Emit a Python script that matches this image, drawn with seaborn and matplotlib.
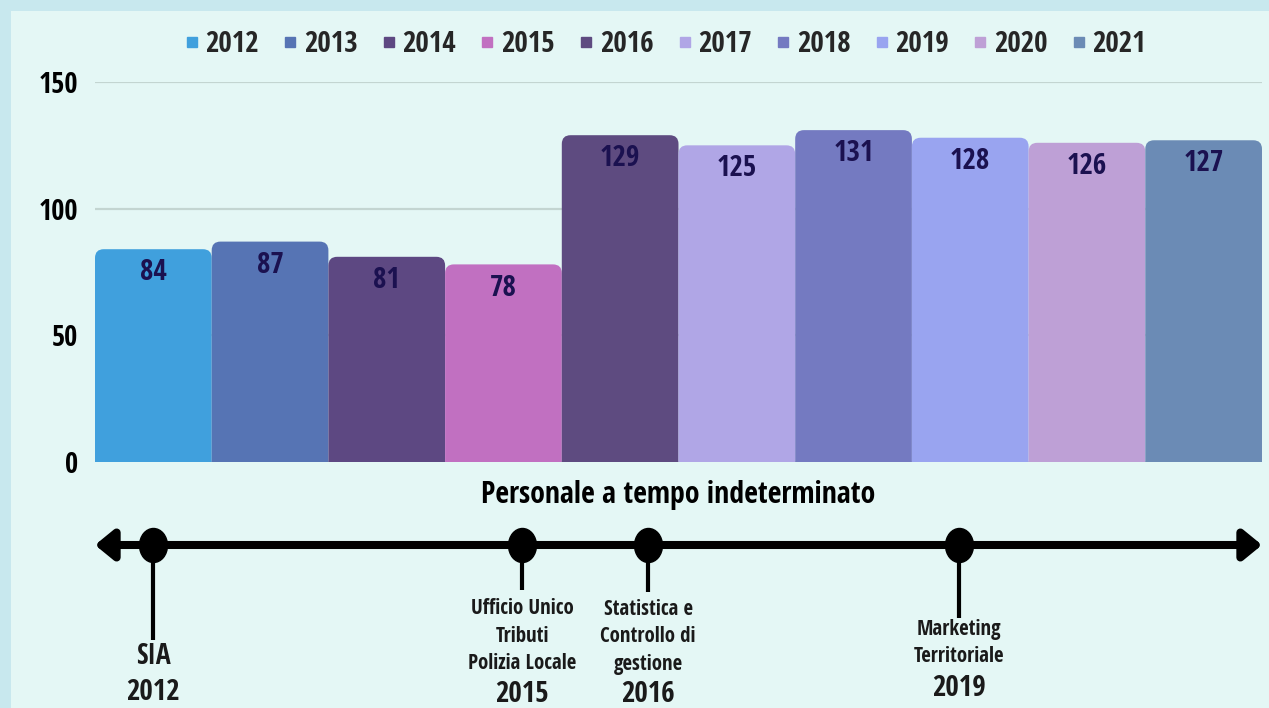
import numpy as np
import pandas as pd
import matplotlib
matplotlib.use("Agg")
import matplotlib.pyplot as plt
from matplotlib.patches import FancyBboxPatch, FancyArrowPatch, Rectangle
from matplotlib.lines import Line2D
from matplotlib.path import Path
import seaborn as sns

# -------------------------
# Data
# -------------------------
years = ["2012", "2013", "2014", "2015", "2016", "2017", "2018", "2019", "2020", "2021"]
staff = [84, 87, 81, 78, 129, 125, 131, 128, 126, 127]
bar_colors = ["#40a0dd", "#5674b4", "#5d4882", "#c170c1", "#5e4b80",
              "#b0a6e6", "#747ac1", "#99a4f0", "#bea0d6", "#6b8bb5"]
y_ticks = [0, 50, 100, 150]
x_title = "Personale a tempo indeterminato"

event_years = ["2012", "2015", "2016", "2019"]
event_names = ["SIA", "Ufficio Unico\nTributi\nPolizia Locale",
               "Statistica e\nControllo di\ngestione", "Marketing\nTerritoriale"]

# -------------------------
# Layout (pixels, from the top-left corner)
# -------------------------
W, H = 1269, 708
AX_LEFT, AX_RIGHT, AX_TOP, AX_BOTTOM = 95, 1262, 82, 462
event_nudge = [0.0, 0.16, 0.24, -0.10]
stem_end = [640, 590, 592, 618]
name_y = [657, 636, 637, 643]
name_size = [20, 15, 15, 15]
year_y = [693, 695, 695, 689]
LINE_Y = 545

sns.set_theme(style="white")
plt.rcParams["font.family"] = ["Open Sans Condensed", "Roboto Condensed", "Asap Condensed",
                               "Open Sans", "DejaVu Sans"]
plt.rcParams["font.weight"] = "bold"


def px_rect(left, top, right, bottom):
    return [left / W, 1 - bottom / H, (right - left) / W, (bottom - top) / H]


fig = plt.figure(figsize=(W / 100, H / 100), dpi=100)
fig.patch.set_facecolor("#c8e8ee")
fig.add_artist(Rectangle((11 / W, 0), 1, 1 - 11 / H, transform=fig.transFigure,
                         facecolor="#e4f7f5", edgecolor="none", zorder=-10))

# -------------------------
# Bar chart
# -------------------------
ax = fig.add_axes(px_rect(AX_LEFT, AX_TOP, AX_RIGHT, AX_BOTTOM))
ax.set_facecolor("none")
df = pd.DataFrame({"year": years, "staff": staff})
sns.barplot(data=df, x="year", y="staff", hue="year", palette=bar_colors,
            width=1.0, saturation=1, legend=False, ax=ax)

# rounded top corners: redraw each bar as a rounded box starting below zero (clipped)
sx = (AX_RIGHT - AX_LEFT) / len(years)
sy = (AX_BOTTOM - AX_TOP) / 150
for p in list(ax.patches):
    x0, w, h = p.get_x(), p.get_width(), p.get_height()
    rb = FancyBboxPatch((x0, -10), w, h + 10,
                        boxstyle="round,pad=0,rounding_size=0.075",
                        mutation_aspect=sx / sy,
                        facecolor=p.get_facecolor(), edgecolor="none", zorder=2)
    ax.add_patch(rb)
    p.set_visible(False)

for i, v in enumerate(staff):
    ax.annotate(str(v), (i, v), xytext=(0, -17), textcoords="offset points",
                ha="center", va="center", fontsize=21, fontweight="bold",
                color="#1b1150", zorder=3)

ax.set_xlim(-0.5, len(years) - 0.5)
ax.set_ylim(0, 150)
ax.set_yticks(y_ticks)
ax.set_yticklabels([str(t) for t in y_ticks], fontsize=20.5, fontweight="bold", color="black")
ax.set_xticks([])
ax.set_ylabel("")
ax.set_xlabel(x_title, fontsize=21.5, fontweight="bold", color="black", labelpad=13)
ax.tick_params(axis="y", length=0, pad=12)
ax.yaxis.grid(True, color="#c3d5d1", lw=1.6)
ax.set_axisbelow(True)
for s in ax.spines.values():
    s.set_visible(False)

handles = [Line2D([], [], ls="none", marker="s", markersize=6.5, color=c) for c in bar_colors]
fig.legend(handles, years, loc="center", bbox_to_anchor=(666 / W, 1 - 45 / H),
           ncol=len(years), frameon=False, handlelength=0.4,
           handletextpad=0.27, columnspacing=0.87, borderpad=0,
           prop={"weight": "bold", "size": 21})

# -------------------------
# Timeline
# -------------------------
tl = fig.add_axes(px_rect(AX_LEFT, 470, AX_RIGHT, H), sharex=ax)
tl.set_facecolor("none")
tl.set_ylim(H, 470)
tl.axis("off")

arrow = FancyArrowPatch((-0.5, LINE_Y), (len(years) - 0.5, LINE_Y),
                        arrowstyle="<|-|>,head_length=0.55,head_width=0.45",
                        mutation_scale=20, lw=5.8, color="black",
                        shrinkA=0, shrinkB=0, joinstyle="round", capstyle="round")
tl.add_patch(arrow)

circle = Path.unit_circle()
ellipse = Path(circle.vertices * np.array([0.82, 1.0]), circle.codes)

for k, (yr, name) in enumerate(zip(event_years, event_names)):
    xpos = years.index(yr) + event_nudge[k]
    tl.plot([xpos, xpos], [LINE_Y, stem_end[k]], color="black", lw=3, solid_capstyle="butt")
    tl.plot([xpos], [LINE_Y], marker=ellipse, markersize=24.5, color="black", ls="none")
    tl.text(xpos, name_y[k], name, ha="center", va="center", fontsize=name_size[k],
            fontweight="bold", color="#1a1a1a", linespacing=1.4)
    tl.text(xpos, year_y[k], yr, ha="center", va="center", fontsize=21,
            fontweight="bold", color="#1a1a1a")

fig.savefig("out.png", dpi=100, facecolor=fig.get_facecolor())
